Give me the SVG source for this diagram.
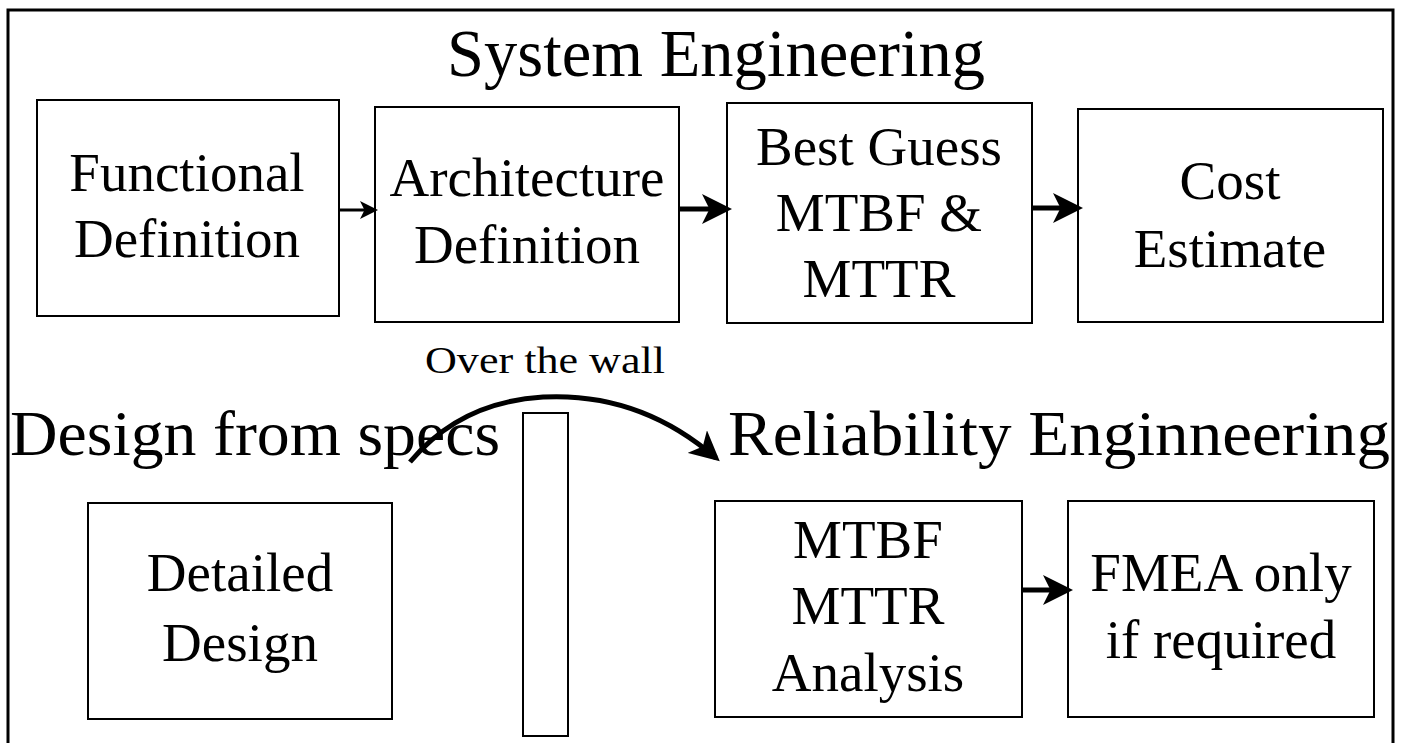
<svg xmlns="http://www.w3.org/2000/svg" width="1403" height="743" viewBox="0 0 1403 743">
<style>
.box{fill:#fff;stroke:#000;stroke-width:2}
.t{font-family:"Liberation Serif","Times New Roman",serif;fill:#000;text-anchor:middle}
.lbl{font-size:55px}
.head{font-size:64px;text-anchor:start}
.conn{fill:none;stroke:#000}
</style>
<defs>
<marker id="ah" markerWidth="6" markerHeight="6" refX="5" refY="3" orient="auto" markerUnits="strokeWidth">
<path d="M0,0 L6,3 L0,6 L1.5,3 z" fill="#000"/>
</marker>
</defs>
<rect width="1403" height="743" fill="#fff"/>
<path d="M8,743 V10 H1393 V743" fill="none" stroke="#000" stroke-width="3"/>
<text class="t" x="716" y="76" font-size="67" textLength="538" lengthAdjust="spacingAndGlyphs">System Engineering</text>
<text class="t head" x="10" y="455" textLength="490" lengthAdjust="spacingAndGlyphs">Design from specs</text>
<text class="t head" x="728" y="455" textLength="662" lengthAdjust="spacingAndGlyphs">Reliability Enginneering</text>
<text class="t" x="545" y="373" font-size="38" textLength="240" lengthAdjust="spacingAndGlyphs">Over the wall</text>
<g id="functional"><rect class="box" x="37" y="100" width="302" height="216"/><text class="t lbl" x="187" y="191">Functional</text><text class="t lbl" x="187" y="257">Definition</text></g>
<g id="architecture"><rect class="box" x="375" y="107" width="304" height="215"/><text class="t lbl" x="527" y="196">Architecture</text><text class="t lbl" x="527" y="263">Definition</text></g>
<g id="bestguess"><rect class="box" x="727" y="103" width="305" height="220"/><text class="t lbl" x="879" y="165">Best Guess</text><text class="t lbl" x="879" y="231">MTBF &amp;</text><text class="t lbl" x="879" y="297">MTTR</text></g>
<g id="cost"><rect class="box" x="1078" y="109" width="305" height="213"/><text class="t lbl" x="1230" y="199">Cost</text><text class="t lbl" x="1230" y="267">Estimate</text></g>
<g id="detailed"><rect class="box" x="88" y="503" width="304" height="216"/><text class="t lbl" x="240" y="591">Detailed</text><text class="t lbl" x="240" y="661">Design</text></g>
<g id="wall"><rect class="box" x="523" y="413" width="45" height="323"/></g>
<g id="mtbf"><rect class="box" x="715" y="501" width="307" height="216"/><text class="t lbl" x="868" y="558">MTBF</text><text class="t lbl" x="868" y="624">MTTR</text><text class="t lbl" x="868" y="691">Analysis</text></g>
<g id="fmea"><rect class="box" x="1068" y="501" width="306" height="216"/><text class="t lbl" x="1221" y="591">FMEA only</text><text class="t lbl" x="1221" y="658">if required</text></g>
<g id="connectors">
<path class="conn" d="M339,210 H375" stroke-width="3" marker-end="url(#ah)"/>
<path class="conn" d="M679,209 H727" stroke-width="5" marker-end="url(#ah)"/>
<path class="conn" d="M1032,208 H1078" stroke-width="5" marker-end="url(#ah)"/>
<path class="conn" d="M1022,590 H1068" stroke-width="5" marker-end="url(#ah)"/>
<path class="conn" d="M410,462 Q460,402 543,397 Q640,392 716,458" stroke-width="5" marker-end="url(#ah)"/>
</g>
</svg>
